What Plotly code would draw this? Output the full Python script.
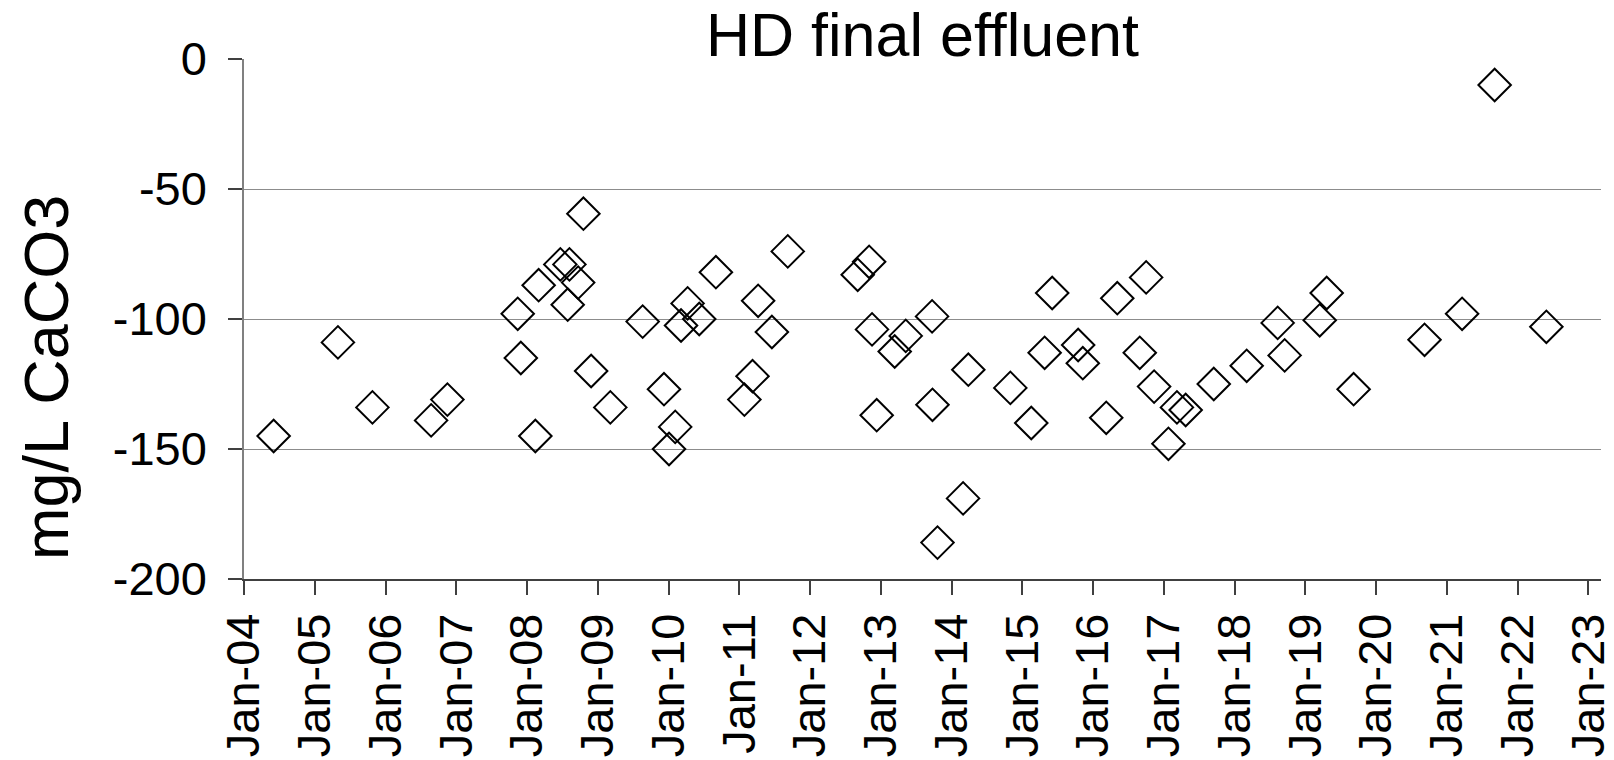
import plotly.graph_objects as go

# Sample dates and alkalinity results (mg/L as CaCO3) for HD final effluent
sample_dates = [
    "2004-06-02", "2005-04-30", "2005-10-25", "2006-08-24", "2006-11-16",
    "2007-11-14", "2007-11-30", "2008-02-13", "2008-03-01", "2008-06-21",
    "2008-07-29", "2008-08-07", "2008-09-21", "2008-10-18", "2008-11-27",
    "2009-03-06", "2009-08-20", "2009-12-08", "2010-01-03", "2010-02-04",
    "2010-03-06", "2010-04-09", "2010-06-08", "2010-09-02", "2011-01-27",
    "2011-03-10", "2011-04-08", "2011-06-18", "2011-09-08", "2012-09-03",
    "2012-11-01", "2012-11-16", "2012-12-10", "2013-03-13", "2013-05-09",
    "2013-09-22", "2013-09-24", "2013-10-20", "2014-03-01", "2014-03-28",
    "2014-10-31", "2015-02-16", "2015-04-26", "2015-06-04", "2015-10-16",
    "2015-11-09", "2016-03-09", "2016-05-05", "2016-08-29", "2016-10-01",
    "2016-11-11", "2017-01-24", "2017-03-09", "2017-04-23", "2017-09-15",
    "2018-03-04", "2018-08-11", "2018-09-16", "2019-03-16", "2019-04-21",
    "2019-09-07", "2020-09-07", "2021-03-20", "2021-09-04", "2022-05-29",
]
alkalinity = [
    -145, -109, -134, -139, -131,
    -98, -115, -145, -87, -79,
    -94.5, -79, -86, -59.5, -120,
    -134, -101, -127, -150, -141.5,
    -102.5, -94, -100, -82, -131,
    -122, -93, -105, -74, -83,
    -78, -104, -137, -112.5, -106.5,
    -99, -133, -186, -169, -119.5,
    -126.5, -140, -113, -90, -110,
    -117, -138, -92, -113, -84,
    -126, -148, -134, -135, -125,
    -118, -101.5, -114, -100.5, -90,
    -127, -108, -98, -10, -103,
]

x_start = "2004-01-01"
x_end = "2023-03-07"
x_ticks = ["%d-01-01" % yr for yr in range(2004, 2024)]
x_tick_labels = ["Jan-%02d" % (yr % 100) for yr in range(2004, 2024)]
y_ticks = [0, -50, -100, -150, -200]
y_tick_labels = ["0", "-50", "-100", "-150", "-200"]

FONT = "Liberation Sans, Arial, sans-serif"

fig = go.Figure()
fig.add_trace(go.Scatter(
    x=sample_dates,
    y=alkalinity,
    mode="markers",
    marker=dict(symbol="diamond-open", size=25, color="black",
                line=dict(color="black", width=2)),
    showlegend=False,
    hoverinfo="x+y",
))

fig.update_layout(
    width=1614,
    height=760,
    margin=dict(l=244, r=13, t=59, b=181, autoexpand=False),
    paper_bgcolor="white",
    plot_bgcolor="white",
    font=dict(family=FONT, color="black"),
    title=dict(
        text="HD final effluent",
        font=dict(family=FONT, size=61, color="black"),
        x=(244 + 1601) / 2 / 1614,
        xanchor="center",
        y=1 - 35 / 760,
        yanchor="middle",
        pad=dict(t=0, b=0),
    ),
    xaxis=dict(
        type="date",
        range=[x_start, x_end],
        tickmode="array",
        tickvals=x_ticks,
        ticktext=x_tick_labels,
        tickangle=-90,
        ticks="outside",
        ticklen=14,
        tickwidth=1.5,
        tickcolor="#404040",
        showline=True,
        linecolor="#404040",
        linewidth=1.5,
        showgrid=False,
        zeroline=False,
        tickfont=dict(family=FONT, size=47, color="black"),
    ),
    yaxis=dict(
        range=[-200, 0],
        tickmode="array",
        tickvals=y_ticks,
        ticktext=y_tick_labels,
        ticks="outside",
        ticklen=14,
        tickwidth=1.5,
        tickcolor="#404040",
        showline=True,
        linecolor="#808080",
        linewidth=1.5,
        showgrid=True,
        gridcolor="#8c8c8c",
        gridwidth=1.2,
        zeroline=False,
        tickfont=dict(family=FONT, size=47, color="black"),
        ticklabelstandoff=12,
    ),
    annotations=[dict(
        text="mg/L CaCO3",
        textangle=-90,
        xref="paper", yref="paper",
        x=(46 - 244) / (1601 - 244),
        y=(579 - 378) / (579 - 59),
        xanchor="center", yanchor="middle",
        showarrow=False,
        font=dict(family=FONT, size=63, color="black"),
    )],
)

fig.write_html("out.html")
